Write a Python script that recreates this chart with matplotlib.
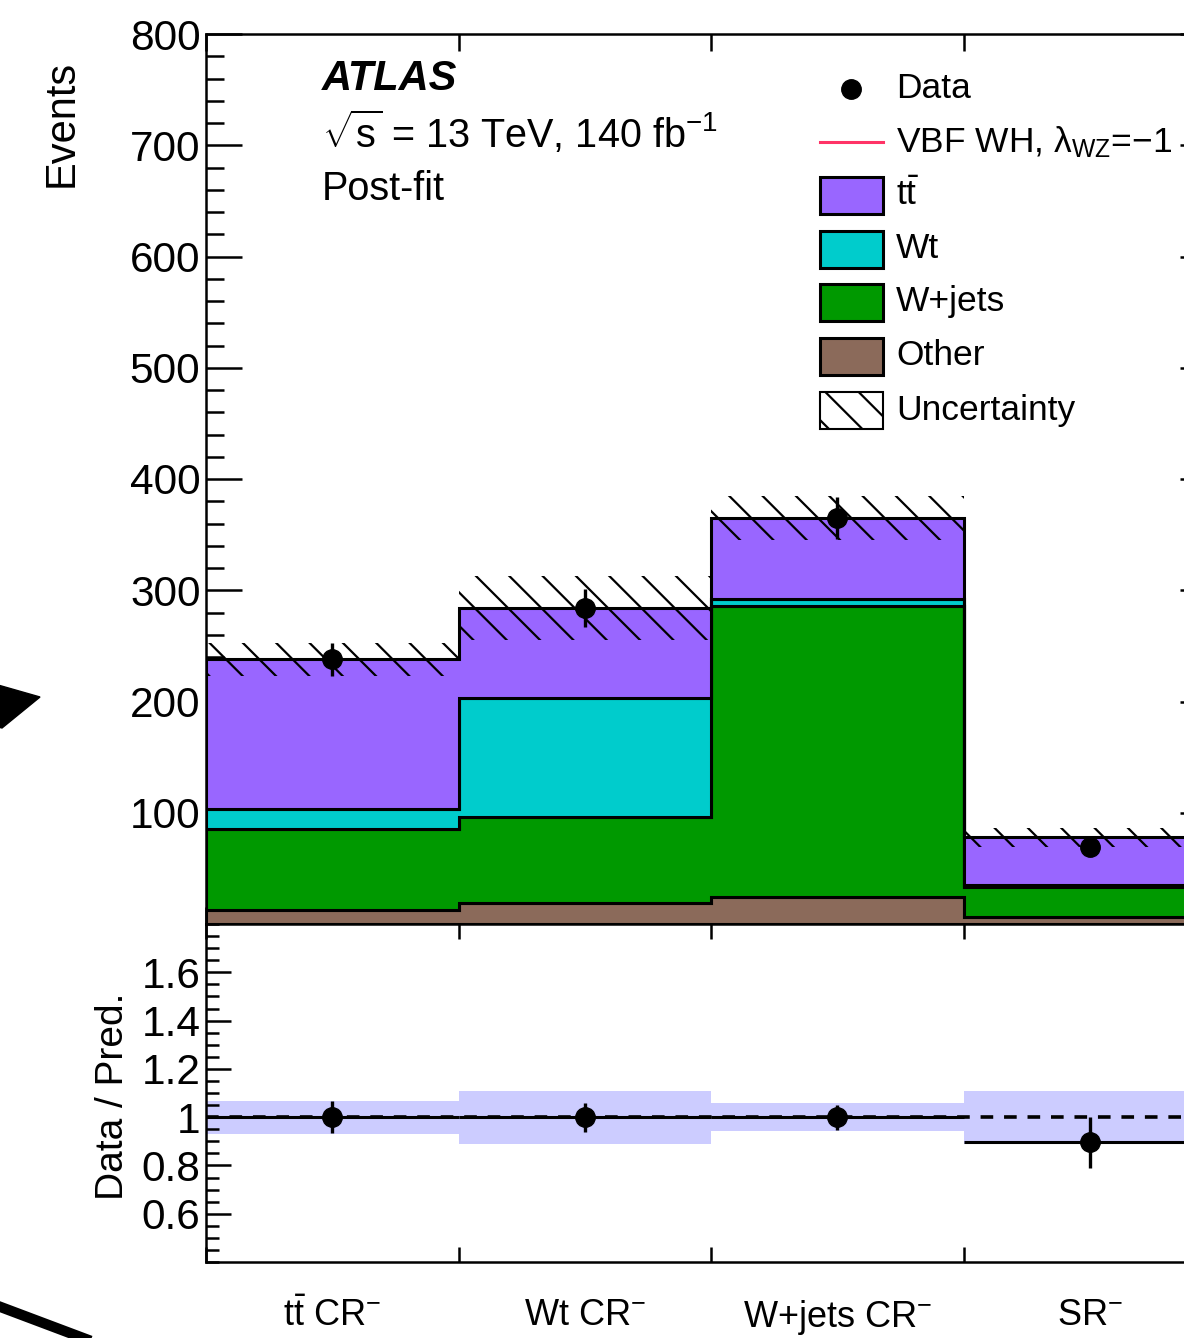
import numpy as np
import matplotlib.pyplot as plt
from matplotlib.ticker import MultipleLocator
from matplotlib.patches import Rectangle, Polygon
from matplotlib.lines import Line2D

plt.rcParams['font.family'] = ['Liberation Sans', 'DejaVu Sans']
plt.rcParams['mathtext.fontset'] = 'custom'
plt.rcParams['mathtext.rm'] = 'Liberation Sans'
plt.rcParams['mathtext.it'] = 'Liberation Sans:italic'
plt.rcParams['mathtext.bf'] = 'Liberation Sans:bold'
plt.rcParams['hatch.linewidth'] = 1.6

# regions (bins)
regions = [r'$\mathrm{t\bar{t}}$ CR$^{-}$', r'Wt CR$^{-}$', r'W+jets CR$^{-}$', r'SR$^{-}$']

# post-fit yields per region
other = [13, 19, 24, 6]
wjets = [72, 77, 262, 27]
wt = [18, 107, 6, 2]
ttbar = [135, 81, 73, 43]
bkg_unc = [15, 29, 20, 8.5]

data = [238, 284, 365, 69]
data_err = [15, 17, 19, 8]

# ratio panel
ratio = [1.0, 1.0, 1.0, 0.895]
ratio_err = [0.065, 0.06, 0.052, 0.105]
ratio_band = [0.068, 0.11, 0.058, 0.11]

colors = {'tt': '#9966ff', 'Wt': '#00cccc', 'Wjets': '#009900', 'Other': '#8b6a5a'}
sig_color = '#ff3366'

W, H = 1184, 1338
def fx(x):
    return x / W
def fy(y):
    return 1 - y / H

fig = plt.figure(figsize=(W / 100, H / 100), dpi=100)
ax = fig.add_axes([fx(206), fy(924), 1010 / W, 890 / H])
rx = fig.add_axes([fx(206), fy(1262), 1010 / W, 338 / H])

edges = np.arange(5)
centers = edges[:-1] + 0.5

# stacked backgrounds
base = np.zeros(4)
for vals, col in zip([other, wjets, wt, ttbar],
                     [colors['Other'], colors['Wjets'], colors['Wt'], colors['tt']]):
    top = base + np.array(vals)
    ax.stairs(top, edges, baseline=base, fill=True, facecolor=col,
              edgecolor='black', lw=2.2, zorder=2)
    base = top
total = base

# uncertainty hatch
unc = np.array(bkg_unc)
ax.stairs(total + unc, edges, baseline=total - unc, fill=True, facecolor='none',
          edgecolor='black', hatch='\\', lw=0, zorder=3)

ax.errorbar(centers, data, yerr=data_err, fmt='o', ms=14, color='black',
            elinewidth=2.4, capsize=0, zorder=5)

ax.set_xlim(0, 4)
ax.set_ylim(0, 800)
ax.set_yticks([100, 200, 300, 400, 500, 600, 700, 800])
ax.yaxis.set_minor_locator(MultipleLocator(20))
ax.set_xticks(edges)
ax.tick_params(axis='x', direction='in', length=12, width=1.8, top=True,
               labelbottom=False)
ax.tick_params(axis='y', which='major', direction='in', length=26, width=1.8,
               right=True, labelsize=30.5, pad=4)
ax.tick_params(axis='y', which='minor', direction='in', length=13, width=1.8,
               right=True)
for s in ax.spines.values():
    s.set_linewidth(1.8)

# ratio panel
rb = np.array(ratio_band)
rx.stairs(1 + rb, edges, baseline=1 - rb, fill=True, facecolor='#ccccff',
          lw=0, zorder=1)
rx.axhline(1, color='black', lw=2.6, ls=(0, (3.5, 3)), zorder=3)
rx.hlines(ratio, edges[:-1], edges[1:], color='black', lw=2.2, zorder=3)
rx.errorbar(centers, ratio, yerr=ratio_err, fmt='o', ms=14, color='black',
            elinewidth=2.4, capsize=0, zorder=5)
rx.set_xlim(0, 4)
rx.set_ylim(0.4, 1.8)
rx.set_yticks([0.6, 0.8, 1.0, 1.2, 1.4, 1.6], ['0.6', '0.8', '1', '1.2', '1.4', '1.6'])
rx.yaxis.set_minor_locator(MultipleLocator(0.05))
rx.set_xticks(edges)
rx.set_xticklabels([])
rx.set_xticks(centers, minor=True)
rx.set_xticklabels(regions, minor=True)
rx.tick_params(axis='x', which='major', direction='in', length=11, width=1.8, top=True)
rx.tick_params(axis='x', which='minor', length=0, labelsize=26, pad=26)
rx.tick_params(axis='y', which='major', direction='in', length=18, width=1.8,
               right=True, labelsize=30.5, pad=4)
rx.tick_params(axis='y', which='minor', direction='in', length=9, width=1.8,
               right=True)
for s in rx.spines.values():
    s.set_linewidth(1.8)

# axis titles
fig.text(fx(62), fy(60), 'Events', rotation=90, ha='center', va='top', fontsize=30)
fig.text(fx(113), fy(993), 'Data / Pred.', rotation=90, ha='center', va='top', fontsize=28)

# labels
fig.text(fx(322), fy(90), 'ATLAS', fontsize=30, fontweight='bold', style='italic',
         va='baseline')
fig.text(fx(322), fy(148), r'$\sqrt{\mathrm{s}}$ = 13 TeV, 140 fb$^{-1}$', fontsize=28.5,
         va='baseline')
fig.text(fx(322), fy(200), 'Post-fit', fontsize=28.5, va='baseline')

# legend
rows = [89, 142, 195, 249, 302, 356, 410]
leg_fs = 25.5
fig.add_artist(Line2D([fx(851)], [fy(rows[0])], marker='o', ms=14, color='black',
                      transform=fig.transFigure))
fig.add_artist(Line2D([fx(820), fx(883)], [fy(rows[1]), fy(rows[1])], color=sig_color,
                      lw=2.2, transform=fig.transFigure))
for y, key in zip(rows[2:6], ['tt', 'Wt', 'Wjets', 'Other']):
    fig.add_artist(Rectangle((fx(820), fy(y + 18.5)), 63 / W, 37 / H,
                             facecolor=colors[key], edgecolor='black', lw=2.2,
                             transform=fig.transFigure))
fig.add_artist(Rectangle((fx(820), fy(rows[6] + 18.5)), 63 / W, 37 / H,
                         facecolor='white', edgecolor='black', hatch='\\', lw=1.5,
                         transform=fig.transFigure))
leg_labels = ['Data', 'VBF WH, λ$_{\\mathrm{WZ}}$=−1', r'$\mathrm{t\bar{t}}$', 'Wt',
              'W+jets', 'Other', 'Uncertainty']
for y, lab in zip(rows, leg_labels):
    fig.text(fx(896), fy(y), lab, fontsize=leg_fs, va='center')

# cropped arrow pieces at the left edge
fig.add_artist(Polygon([[fx(-2), fy(685)], [fx(40), fy(697)], [fx(2), fy(728)], [fx(-2), fy(727)]],
                       closed=True, color='black', transform=fig.transFigure))
fig.add_artist(Line2D([fx(-10), fx(115)], [fy(1303), fy(1350)], color='black', lw=7.5,
                      transform=fig.transFigure))

fig.savefig('out.png', dpi=100)
